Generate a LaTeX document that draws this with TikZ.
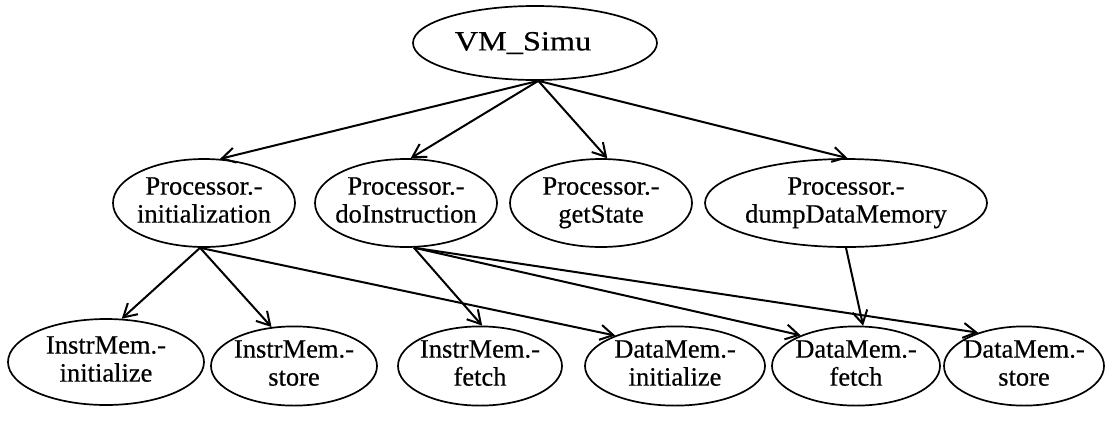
\documentclass[tikz,border=0pt]{standalone}
\usepackage{fontspec}
\usepackage{graphicx}
\setmainfont{Liberation Serif}[FakeBold=0.5]
\usetikzlibrary{shapes.geometric,arrows.meta}
% two centred lines of text that do not widen the surrounding ellipse
\newcommand{\twoline}[2]{\makebox[0pt]{\begin{tabular}{@{}c@{}}#1\\#2\end{tabular}}}
\begin{document}
\begin{tikzpicture}[x=1pt,y=-1pt,
  fn/.style={ellipse, draw, line width=1.7pt, inner sep=0pt,
             font=\fontsize{26.5}{28}\selectfont},
  mid/.style={fn, minimum height=88pt},
  low/.style={fn, minimum height=78pt},
  link/.style={line width=2pt, -{Straight Barb[length=13pt,width=15pt]}}]
\useasboundingbox (0,0) rectangle (1105,429);

% root
\node[fn, minimum width=244pt, minimum height=74pt] (vm) at (535,43)
  {\makebox[0pt]{\hspace*{-24pt}\scalebox{1.22}[1.05]{VM\_Simu}}};

% processor operations
\node[mid, minimum width=182pt] (init) at (204,203) {\twoline{Processor.-}{initialization}};
\node[mid, minimum width=182pt] (doi)  at (406,203) {\twoline{Processor.-}{doInstruction}};
\node[mid, minimum width=182pt] (gs)   at (601,203) {\twoline{Processor.-}{getState}};
\node[mid, minimum width=282pt] (dump) at (846,203) {\twoline{Processor.-}{dumpDataMemory}};

% memory operations
\node[low, minimum width=196pt, minimum height=86pt] (ii) at (106,362) {\twoline{InstrMem.-}{initialize}};
\node[low, minimum width=166pt] (is)  at (294,366)  {\twoline{InstrMem.-}{store}};
\node[low, minimum width=164pt] (if)  at (480,366)  {\twoline{InstrMem.-}{fetch}};
\node[low, minimum width=180pt] (dmi) at (675,366)  {\twoline{DataMem.-}{initialize}};
\node[low, minimum width=168pt] (dmf) at (856,366)  {\twoline{DataMem.-}{fetch}};
\node[low, minimum width=160pt] (dms) at (1024,366) {\twoline{DataMem.-}{store}};

% calls
\draw[link] (vm.-85) -- (init.70);
\draw[link] (vm.-85) -- (doi.84);
\draw[link] (vm.-85) -- (gs.82);
\draw[link] (vm.-85) -- (dump.88);

\draw[link] (init.-95) -- (ii.70);
\draw[link] (init.-95) -- (is.120);
\draw[link] (init.-95) -- (dmi.153);

\draw[link] (doi.-80) -- (if.87);
\draw[link] (doi.-80) -- (dmf.151);
\draw[link] (doi.-80) -- (dms.144);

\draw[link] (dump.south) -- (dmf.80);
\end{tikzpicture}
\end{document}
